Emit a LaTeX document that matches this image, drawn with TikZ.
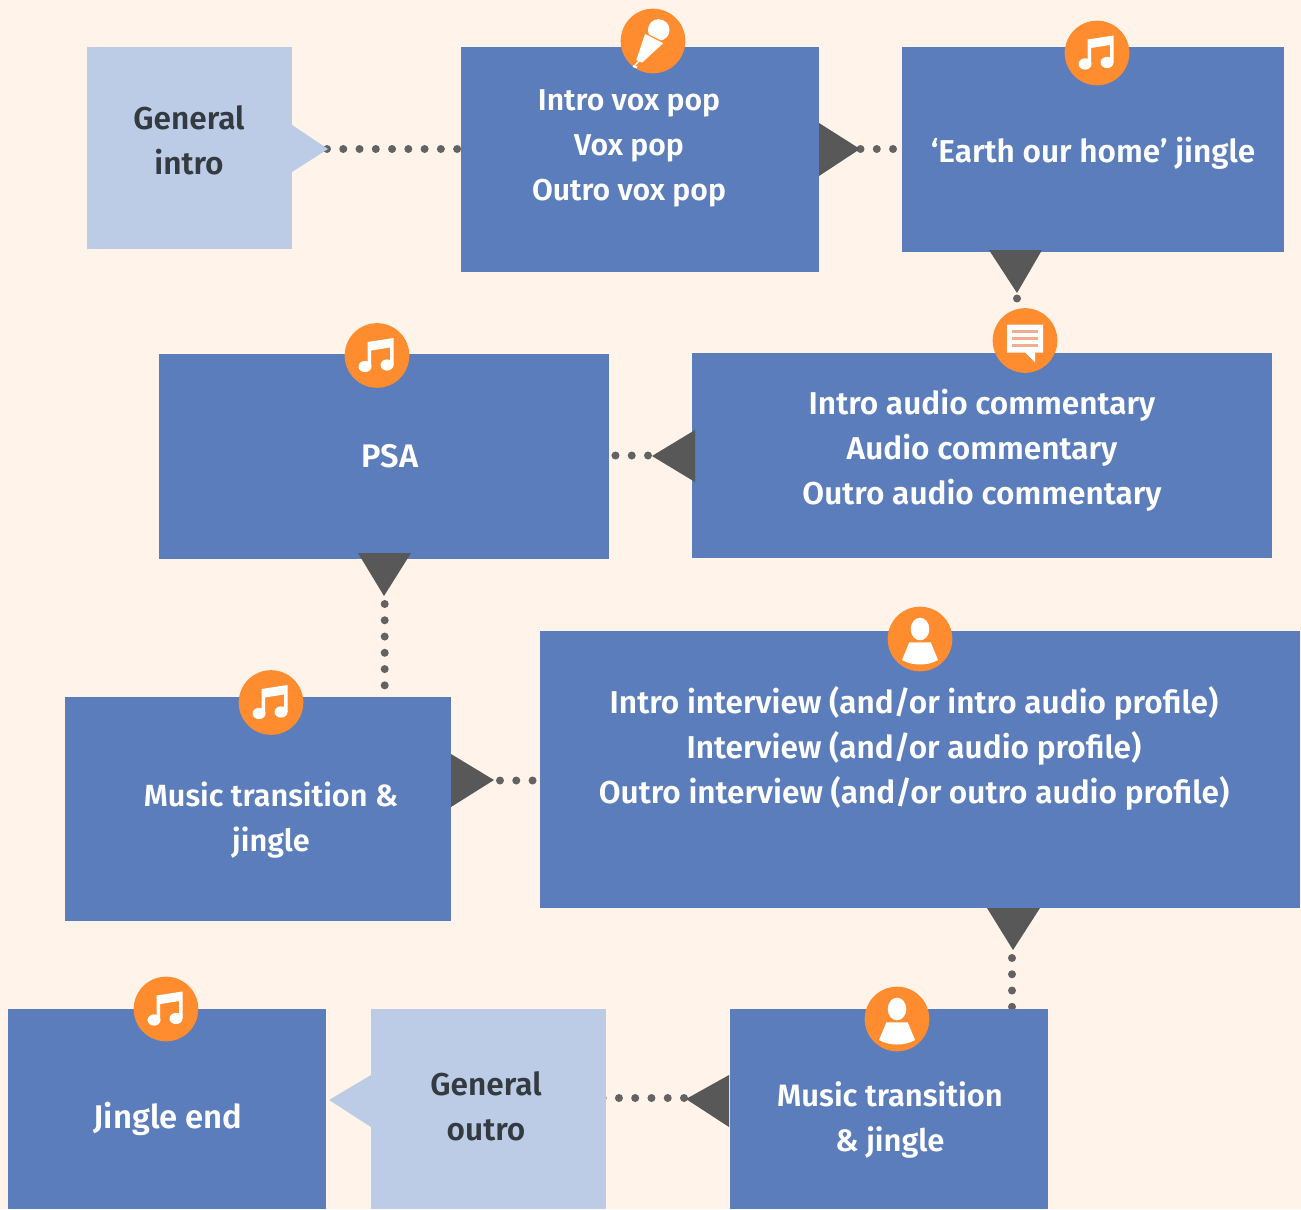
\documentclass[tikz,border=0pt]{standalone}
\usepackage{fontspec}
\setmainfont{Fira Sans}[UprightFont=* Medium,BoldFont=* SemiBold]
\definecolor{bg}{HTML}{FFF3EA}
\definecolor{blue}{HTML}{5B7DBC}
\definecolor{pale}{HTML}{BDCCE6}
\definecolor{tri}{HTML}{585858}
\definecolor{dotc}{HTML}{636363}
\definecolor{orng}{HTML}{FF8C2E}
\definecolor{ink}{HTML}{333A40}
\definecolor{ruleline}{HTML}{F0AE8E}
\newcommand{\mkbox}[6][bluebox]{\node[#1,minimum width={(#5-#3)*0.75pt},minimum height={(#6-#4)*0.75pt}] (#2) at ({(#3+#5)/2},{(#4+#6)/2}) {};}
\tikzset{
  x=0.75pt,y=-0.75pt,
  bluebox/.style={rectangle,fill=blue,inner sep=0pt,outer sep=0pt},
  palebox/.style={rectangle,fill=pale,inner sep=0pt,outer sep=0pt},
  fs/.style={font=\fontsize{#1}{33.75}\selectfont\bfseries},
  whitetext/.style={text=white,fs=23.7,align=center,inner sep=0pt},
  darktext/.style={text=ink,fs=23.7,align=center,inner sep=0pt},
  head/.style={fill=tri},
  palehead/.style={fill=pale},
  dotline/.style={draw=dotc,line width=6pt,line cap=round,dash pattern=on 0pt off 12.2pt},
  badge/.style={circle,fill=orng,minimum size=48.5pt,inner sep=0pt},
  music/.pic={
    \fill[white] (-9.5,11) -- (-9.5,-13.5) -- (16.5,-17.5) -- (16.5,9.5) -- (13,9.5) -- (13,-8) -- (-6,-5) -- (-6,11) -- cycle;
    \fill[white] (-12,11) ellipse [x radius=6.5,y radius=5.6];
    \fill[white] (10,9.5) ellipse [x radius=6.5,y radius=5.6];
  },
  person/.pic={
    \fill[white] (0,-10) ellipse [x radius=9.3,y radius=11.3];
    \fill[white] (-10.7,3.3) -- (10.7,3.3) -- (18,21) .. controls (8,27) and (-8,27) .. (-18,21) -- cycle;
  },
  comment/.pic={
    \fill[white] (-18,-16) -- (18,-16) -- (18,12) -- (10,12) -- (10,22) -- (0,12) -- (-18,12) -- cycle;
    \foreach \yy in {-9,-2,5} \fill[ruleline] (-13,\yy-1.5) rectangle (13,\yy+1.5);
  },
  mic/.pic={
    \fill[white] (5.7,-11) circle [radius=10.8];
    \fill[white] (-7.7,-7.7) -- (10.7,1.7) -- (-11,21.7) -- (-16.7,19) -- cycle;
    \draw[orng,line width=0.9pt] (-7.7,-7.7) -- (10.7,1.7);
    \draw[white,line width=1pt] (-14,20) -- (-18.7,25);
    \draw[white,line width=1.6pt] (-20,25) -- (-16,26.5);
  }
}
\begin{document}
\begin{tikzpicture}
\useasboundingbox (0,0) rectangle (1301,1209);
\fill[bg] (0,0) rectangle (1301,1209);
% arrow tips
\coordinate (tipA) at (328,149);
\coordinate (tipB) at (860,149);
\coordinate (tipC) at (1017,293);
\coordinate (tipD) at (652,456);
\coordinate (tipE) at (384,596);
\coordinate (tipF) at (494,780);
\coordinate (tipG) at (1013,950);
\coordinate (tipH) at (686,1099);
\coordinate (tipI) at (329,1100);
% connector starts (first dot)
\coordinate (dotA) at (327,149);
\coordinate (dotB) at (860.5,149);
\coordinate (dotC) at (1017,298.5);
\coordinate (dotD) at (648,455.5);
\coordinate (dotE) at (384.7,604);
\coordinate (dotF) at (500,780.5);
\coordinate (dotG) at (1012,958);
\coordinate (dotH) at (684,1098);
% boxes sit on a layer above the connectors
\pgfdeclarelayer{top}
\pgfsetlayers{main,top}
\begin{pgfonlayer}{top}
\mkbox[palebox]{genintro}{87}{47}{292}{249}
\mkbox{voxpop}{461}{47}{819}{272}
\mkbox{jingle}{902}{47}{1284}{252}
\mkbox{commentary}{692}{353}{1272}{558}
\mkbox{psa}{159}{354}{609}{559}
\mkbox{musicA}{65}{697}{451}{921}
\mkbox{interview}{540}{631}{1300}{908}
\mkbox{musicB}{730}{1009}{1048}{1209}
\mkbox[palebox]{genoutro}{371}{1009}{606}{1209}
\mkbox{jingleend}{8}{1009}{326}{1209}
% heads
\fill[palehead] (292,125) -- (tipA) -- (292,172) -- cycle;
\fill[head] (819,123) -- (tipB) -- (819,176) -- cycle;
\fill[head] (989,250) -- (tipC) -- (1042,250) -- cycle;
\fill[head] (695,430) -- (tipD) -- (695,482) -- cycle;
\fill[head] (358,553) -- (tipE) -- (411,553) -- cycle;
\fill[head] (451,754) -- (tipF) -- (451,807) -- cycle;
\fill[head] (987,908) -- (tipG) -- (1040,908) -- cycle;
\fill[head] (729,1075) -- (tipH) -- (729,1127) -- cycle;
\fill[palehead] (371,1075) -- (tipI) -- (371,1127) -- cycle;
% texts
\node[darktext] (t1) at (189,140) {General\\intro};
\node[whitetext,fs=22.6] (t2) at (629,148) {Intro vox pop\\Vox pop\\Outro vox pop};
\node[whitetext] (t3) at (1093,153) {‘Earth our home’ jingle};
\node[whitetext] (t4) at (982,450) {Intro audio commentary\\Audio commentary\\Outro audio commentary};
\node[whitetext,fs=24.5] (t5) at (390,456) {PSA};
\node[whitetext,fs=23] (t6) at (271,820) {Music transition \&\\jingle};
\node[whitetext] (t7) at (914,748) {Intro interview (and/or intro audio profile)\\Interview (and/or audio profile)\\Outro interview (and/or outro audio profile)};
\node[whitetext,fs=23.2] (t8) at (890,1120) {Music transition\\\& jingle};
\node[darktext] (t9) at (486,1106) {General\\outro};
\node[whitetext,fs=24.6] (t10) at (168,1119) {Jingle end};
% icons
\node[badge] (i1) at (653,41) {};  \pic at (i1) {mic};
\node[badge] (i2) at (1097,53) {}; \pic at (i2) {music};
\node[badge] (i3) at (1025,340.5) {}; \pic at (i3) {comment};
\node[badge] (i4) at (377,355.5) {}; \pic at (i4) {music};
\node[badge] (i5) at (920,639) {}; \pic at (i5) {person};
\node[badge] (i6) at (271,702.5) {}; \pic at (i6) {music};
\node[badge] (i7) at (897,1019) {}; \pic at (i7) {person};
\node[badge] (i8) at (166,1009) {}; \pic at (i8) {music};
\end{pgfonlayer}
% connectors, under the boxes
\draw[dotline] (dotA) -- (voxpop.west |- dotA);
\draw[dotline] (dotB) -- (jingle.west |- dotB);
\draw[dotline] (dotC) -- (commentary.north -| dotC);
\draw[dotline] (dotD) -- (psa.east |- dotD);
\draw[dotline] (dotE) -- (musicA.north -| dotE);
\draw[dotline] (dotF) -- (interview.west |- dotF);
\draw[dotline] (dotG) -- (musicB.north -| dotG);
\draw[dotline,shorten >=-6pt] (dotH) -- (genoutro.east |- dotH);
\end{tikzpicture}
\end{document}
